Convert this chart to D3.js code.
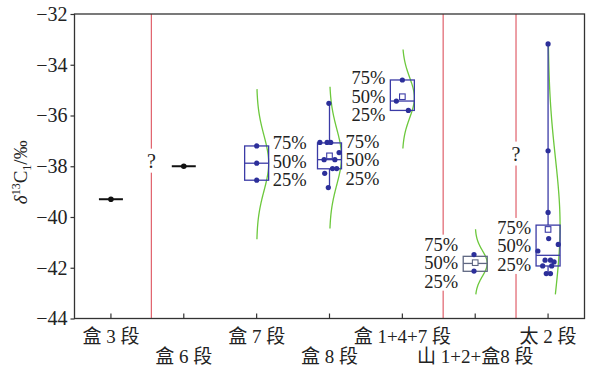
<!DOCTYPE html>
<html>
<head>
<meta charset="utf-8">
<script src="https://cdn.jsdelivr.net/npm/d3@7/dist/d3.min.js"></script>
<style>
  html, body { margin: 0; padding: 0; background: #fff; }
  svg { display: block; }
</style>
</head>
<body>
<svg id="chart" width="599" height="368"></svg>
<script>
// Stratigraphic intervals along the x axis
const categories = ["盒 3 段", "盒 6 段", "盒 7 段", "盒 8 段", "盒 1+4+7 段", "山 1+2+盒8 段", "太 2 段"];
const yTicks = [-32, -34, -36, -38, -40, -42, -44];

// Intervals with a single measurement
const singleCats = ["盒 3 段", "盒 6 段"];
const singleValues = [-39.3, -38.0];

// Box statistics (δ13C1, ‰)
const boxCats   = ["盒 7 段", "盒 8 段", "盒 1+4+7 段", "山 1+2+盒8 段", "太 2 段"];
const q1        = [-38.55, -38.10, -35.80, -42.14, -41.93];
const median    = [-37.88, -37.74, -35.43, -41.83, -41.51];
const q3        = [-37.20, -37.08, -34.60, -41.55, -40.32];
const meanVal   = [null,   -37.59, -35.26, -41.80, -40.49];
const whiskerLo = [-38.55, -38.84, -35.80, -42.14, -42.23];
const whiskerHi = [-37.20, -35.52, -34.60, -41.55, -33.18];

// Individual samples per interval, with horizontal spread (fraction of half box width)
const samples = [
  [-37.20, -37.88, -38.55],
  [-35.52, -37.06, -37.06, -37.06, -37.46, -37.74, -37.74, -38.09, -38.09, -38.28, -38.84],
  [-34.60, -35.43, -35.80],
  [-41.48, -42.13],
  [-33.18, -37.39, -39.82, -40.85, -41.08, -41.34, -41.70, -41.70, -41.77, -41.93, -41.93, -42.23, -42.23]
];
const spread = [
  [0, 0, 0],
  [-0.05, -0.8, -0.2, 0.1, 0.8, -0.45, 0.45, 0.25, 0.6, -0.4, -0.1],
  [0, -0.5, 0.5],
  [-0.1, -0.1],
  [0, 0, 0, 0.05, 0.85, -0.85, -0.25, 0.2, 0.5, -0.45, 0.3, -0.15, 0.2]
];

// Normal distribution curves drawn beside each box
const curveMean = [-37.88, -37.63, -35.30, -41.83, -40.35];
const curveSd   = [1.10, 1.10, 0.80, 0.50, 2.70];
const curveLo   = [-40.88, -40.45, -37.30, -43.05, -43.05];
const curveHi   = [-34.96, -34.87, -33.40, -40.48, -33.18];

// Percentile annotation blocks (75% / 50% / 25%)
const pctCats  = ["盒 7 段", "盒 8 段", "盒 1+4+7 段", "山 1+2+盒8 段", "太 2 段"];
const pctSide  = ["right", "right", "left", "left", "left"];
const pctMid   = [-37.80, -37.74, -35.25, -41.80, -41.14];
const pctTexts = ["75%", "50%", "25%"];

// Vertical boundary lines (in category-index units) and their "?" marks
const dividers = [0.555, 4.56, 5.56];
const questionAt = [{ d: 0, v: -37.78 }, { d: 2, v: -37.50 }];

const svg = d3.select("#chart");
const L = 74.5, R = 584.5, T = 14, B = 318.5;

const x = d3.scaleBand().domain(categories).range([L, R]).padding(0);
const xc = c => x(c) + x.bandwidth() / 2;
const xi = d3.scaleLinear().domain([0, 1]).range([xc(categories[0]), xc(categories[1])]);
const y = d3.scaleLinear().domain([-44, -32]).range([B, T]);

const serif = "'Liberation Serif', 'Times New Roman', 'Noto Sans CJK SC', serif";
const boxHalf = 12;
const blue = "#3b3ba6";
const dotBlue = "#2c2f9a";
const green = "#6cc83c";
const red = "#e0606b";

// Boundary lines
svg.append("g").selectAll("line").data(dividers).join("line")
  .attr("x1", d => xi(d)).attr("x2", d => xi(d))
  .attr("y1", T).attr("y2", B)
  .attr("stroke", red).attr("stroke-width", 1.2);

// "?" marks on the boundary lines
const q = svg.append("g");
questionAt.forEach(o => {
  const cx = xi(dividers[o.d]), cy = y(o.v);
  q.append("rect").attr("x", cx - 7).attr("y", cy - 12).attr("width", 14).attr("height", 24).attr("fill", "#fff");
  q.append("text").attr("x", cx).attr("y", cy + 7).attr("text-anchor", "middle")
    .attr("font-family", serif).attr("font-size", 20).attr("fill", "#222").text("?");
});

// Percentile label blocks with white backing
const pg = svg.append("g");
const pctStep = 18.5;
pctCats.forEach((c, i) => {
  const cx = xc(c);
  const right = pctSide[i] === "right";
  const tx = right ? cx + 16 : cx - 17;
  const cy = y(pctMid[i]);
  pg.append("rect")
    .attr("x", right ? tx : tx - 38).attr("y", cy - 28)
    .attr("width", 38).attr("height", 56).attr("fill", "#fff");
  pctTexts.forEach((t, k) => {
    pg.append("text")
      .attr("x", tx).attr("y", cy + (k - 1) * pctStep + 6.5)
      .attr("text-anchor", right ? "start" : "end")
      .attr("font-family", serif).attr("font-size", 18.5).attr("fill", "#222")
      .text(t);
  });
});

// Distribution curves
const curveLine = d3.line().x(d => d[0]).y(d => d[1]).curve(d3.curveBasis);
boxCats.forEach((c, i) => {
  const cx = xc(c);
  const pts = d3.range(0, 101).map(k => {
    const v = curveLo[i] + (curveHi[i] - curveLo[i]) * k / 100;
    const z = (v - curveMean[i]) / curveSd[i];
    return [cx + boxHalf * Math.exp(-0.5 * z * z), y(v)];
  });
  svg.append("path").attr("d", curveLine(pts))
    .attr("fill", "none").attr("stroke", green).attr("stroke-width", 1.3);
});

// Single-value markers
singleCats.forEach((c, i) => {
  const cx = xc(c), cy = y(singleValues[i]);
  svg.append("line").attr("x1", cx - boxHalf).attr("x2", cx + boxHalf)
    .attr("y1", cy).attr("y2", cy).attr("stroke", "#111").attr("stroke-width", 2);
  svg.append("circle").attr("cx", cx).attr("cy", cy).attr("r", 2.8).attr("fill", "#111");
});

// Boxes, whiskers, means and samples
boxCats.forEach((c, i) => {
  const cx = xc(c);
  const col = c === "山 1+2+盒8 段" ? "#5f6782" : blue;
  const g = svg.append("g");
  g.append("line").attr("x1", cx).attr("x2", cx).attr("y1", y(whiskerHi[i])).attr("y2", y(q3[i]))
    .attr("stroke", blue).attr("stroke-width", 1.3);
  g.append("line").attr("x1", cx).attr("x2", cx).attr("y1", y(q1[i])).attr("y2", y(whiskerLo[i]))
    .attr("stroke", blue).attr("stroke-width", 1.3);
  g.append("rect").attr("x", cx - boxHalf).attr("y", y(q3[i]))
    .attr("width", boxHalf * 2).attr("height", y(q1[i]) - y(q3[i]))
    .attr("fill", "none").attr("stroke", col).attr("stroke-width", 1.3);
  g.append("line").attr("x1", cx - boxHalf).attr("x2", cx + boxHalf)
    .attr("y1", y(median[i])).attr("y2", y(median[i]))
    .attr("stroke", col).attr("stroke-width", 1.3);
  if (meanVal[i] !== null) {
    g.append("rect").attr("x", cx - 2.8).attr("y", y(meanVal[i]) - 2.8)
      .attr("width", 5.6).attr("height", 5.6)
      .attr("fill", "#fff").attr("stroke", col).attr("stroke-width", 1.1);
  }
  g.selectAll("circle").data(samples[i]).join("circle")
    .attr("cx", (d, k) => cx + spread[i][k] * boxHalf)
    .attr("cy", d => y(d)).attr("r", 2.6).attr("fill", dotBlue);
});

// Frame
svg.append("rect").attr("x", L).attr("y", T).attr("width", R - L).attr("height", B - T)
  .attr("fill", "none").attr("stroke", "#333").attr("stroke-width", 1.3);

// Y axis
const yAxis = svg.append("g").attr("transform", `translate(${L},0)`)
  .call(d3.axisLeft(y).tickValues(yTicks).tickSize(4).tickPadding(3).tickFormat(d3.format("d")));
yAxis.select(".domain").remove();
yAxis.selectAll("line").attr("stroke", "#333").attr("stroke-width", 1.2);
yAxis.selectAll("text").attr("font-family", serif).attr("font-size", 20).attr("fill", "#222");

// X axis (inward ticks, labels on two alternating rows)
const xAxis = svg.append("g").attr("transform", `translate(0,${B})`)
  .call(d3.axisBottom(x).tickSizeInner(-5).tickSizeOuter(0));
xAxis.select(".domain").remove();
xAxis.selectAll("line").attr("stroke", "#333").attr("stroke-width", 1.2);
xAxis.selectAll("text")
  .attr("y", (d, i) => i % 2 === 0 ? 24 : 44).attr("dy", 0)
  .attr("font-family", serif).attr("font-size", 19).attr("fill", "#222");

// Y axis title: δ13C1/‰
const yt = svg.append("text")
  .attr("transform", `translate(27,${(T + B) / 2 + 6}) rotate(-90)`)
  .attr("text-anchor", "middle").attr("font-family", serif).attr("font-size", 19).attr("fill", "#222");
yt.append("tspan").attr("font-style", "italic").text("δ");
yt.append("tspan").attr("font-size", 12).attr("dy", -7).text("13");
yt.append("tspan").attr("dy", 7).text("C");
yt.append("tspan").attr("font-size", 12).attr("dy", 4).text("1");
yt.append("tspan").attr("dy", -4).text("/‰");
</script>
</body>
</html>
